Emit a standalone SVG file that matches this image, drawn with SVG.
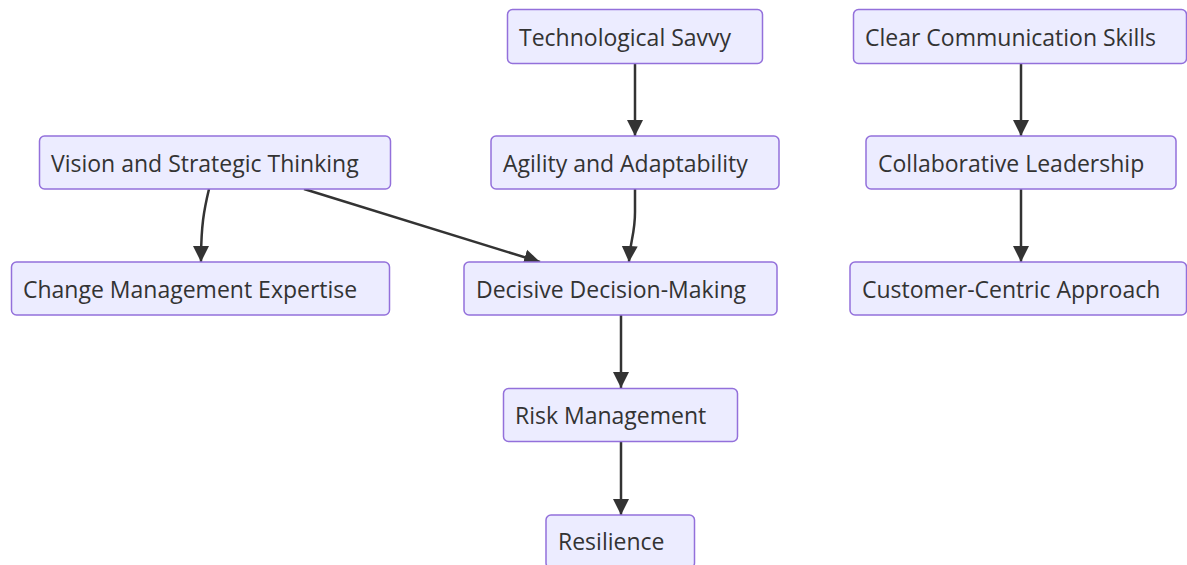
<svg xmlns="http://www.w3.org/2000/svg" width="1187" height="565" viewBox="0 0 1187 565">
<style>
.node rect{fill:#ECECFF;stroke:#9370DB;stroke-width:1.5}
.node text{font-family:"Open Sans","Liberation Sans",sans-serif;font-size:23px;fill:#333}
.edge{fill:none;stroke:#333;stroke-width:2.5}
</style>
<defs>
<marker id="arrow" viewBox="0 0 10 10" refX="10" refY="5" markerUnits="userSpaceOnUse" markerWidth="16" markerHeight="18" orient="auto">
<path d="M0,0 L10,5 L0,10 z" fill="#333"/>
</marker>
</defs>
<rect width="1187" height="565" fill="#fff"/>
<g id="connectors">
<path class="edge" d="M635,63 L635,136" marker-end="url(#arrow)"/>
<path class="edge" d="M635,189 L635,212 C635,235 630,240 629,262" marker-end="url(#arrow)"/>
<path class="edge" d="M209,189 C204,210 201,225 201,262" marker-end="url(#arrow)"/>
<path class="edge" d="M304,189 L540,262" marker-end="url(#arrow)"/>
<path class="edge" d="M1021,63 L1021,136" marker-end="url(#arrow)"/>
<path class="edge" d="M1021,189 L1021,262" marker-end="url(#arrow)"/>
<path class="edge" d="M621,315 L621,388" marker-end="url(#arrow)"/>
<path class="edge" d="M621,441 L621,515" marker-end="url(#arrow)"/>
</g>
<g id="tech" class="node"><rect x="507.5" y="9.5" width="255" height="54" rx="5"/><text x="519" y="46">Technological Savvy</text></g>
<g id="clear" class="node"><rect x="853.5" y="9.5" width="333" height="54" rx="5"/><text x="865" y="46">Clear Communication Skills</text></g>
<g id="vision" class="node"><rect x="39.5" y="136" width="351" height="53" rx="5"/><text x="51" y="172">Vision and Strategic Thinking</text></g>
<g id="agility" class="node"><rect x="491" y="136" width="288" height="53" rx="5"/><text x="503" y="172">Agility and Adaptability</text></g>
<g id="collab" class="node"><rect x="866" y="136" width="310" height="53" rx="5"/><text x="878" y="172">Collaborative Leadership</text></g>
<g id="change" class="node"><rect x="11.5" y="262" width="378" height="53" rx="5"/><text x="23" y="298">Change Management Expertise</text></g>
<g id="decisive" class="node"><rect x="464" y="262" width="313" height="53" rx="5"/><text x="476" y="298">Decisive Decision-Making</text></g>
<g id="customer" class="node"><rect x="850" y="262" width="336.5" height="53" rx="5"/><text x="862" y="298">Customer-Centric Approach</text></g>
<g id="risk" class="node"><rect x="503.5" y="388.5" width="234" height="53" rx="5"/><text x="515" y="424">Risk Management</text></g>
<g id="resilience" class="node"><rect x="546" y="515" width="148.5" height="53" rx="5"/><text x="558" y="550">Resilience</text></g>
</svg>
